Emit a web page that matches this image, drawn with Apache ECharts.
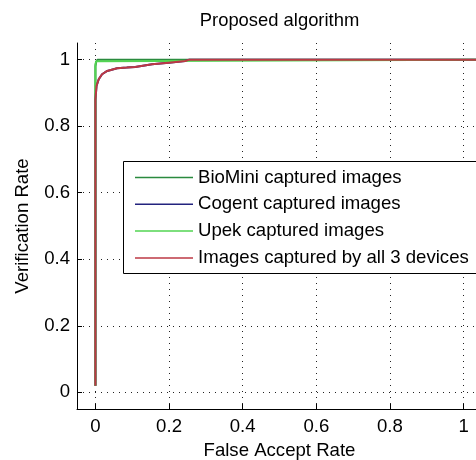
<!DOCTYPE html>
<html>
<head>
<meta charset="utf-8">
<script src="https://cdn.jsdelivr.net/npm/echarts@6/dist/echarts.min.js"></script>
<style>html,body{margin:0;padding:0;background:#fff;}#c{width:476px;height:460px;}</style>
</head>
<body>
<div id="c"></div>
<script>
// ---- data ----
var seriesNames = ['BioMini captured images', 'Cogent captured images', 'Upek captured images', 'Images captured by all 3 devices'];
var seriesColors = ['#2a8a3e', '#23237e', '#52d452', '#bd3844'];

var bioX = [0, 0, 0.002, 0.006, 1.05];
var bioY = [0.02, 0.98, 0.993, 1, 1];

var cogX = [0, 0, 0.003, 0.009, 0.018, 0.032, 0.059, 0.085, 0.108, 0.154, 0.199, 0.244, 0.255, 1.05];
var cogY = [0.02, 0.88, 0.921, 0.941, 0.956, 0.966, 0.974, 0.976, 0.978, 0.986, 0.991, 0.996, 1, 1];

var upekX = [0, 0, 0.002, 0.006, 1.05];
var upekY = [0.02, 0.985, 0.995, 1, 1];

var allX = [0, 0, 0.003, 0.009, 0.018, 0.032, 0.059, 0.085, 0.108, 0.154, 0.199, 0.244, 0.255, 1.05];
var allY = [0.02, 0.88, 0.921, 0.941, 0.956, 0.966, 0.974, 0.976, 0.978, 0.986, 0.991, 0.996, 1, 1];

var xTicks = [0, 0.2, 0.4, 0.6, 0.8, 1];
var yTicks = [0, 0.2, 0.4, 0.6, 0.8, 1];

function pairs(xs, ys) { return xs.map(function (x, i) { return [x, ys[i]]; }); }
var seriesData = [pairs(bioX, bioY), pairs(cogX, cogY), pairs(upekX, upekY), pairs(allX, allY)];

var FONT = '"Liberation Sans", Arial, sans-serif';
var FS = 18.6;
var chart = echarts.init(document.getElementById('c'), null, {renderer: 'canvas'});

var gridLine = {show: true, lineStyle: {color: '#222', width: 1, type: [1, 5]}};

var option = {
  animation: false,
  backgroundColor: '#fff',
  title: {
    text: 'Proposed algorithm',
    left: 279.5, top: 12, padding: 0, textAlign: 'center',
    textStyle: {fontFamily: FONT, fontSize: 18.4, fontWeight: 'normal', color: '#000'}
  },
  grid: {left: 77, right: -6, top: 43, bottom: 51, containLabel: false, outerBoundsMode: 'none'},
  graphic: [{
    type: 'rect', z: 3, silent: true,
    shape: {x: 123.5, y: 161.5, width: 370, height: 112},
    style: {fill: '#fff', stroke: '#000', lineWidth: 1}
  }],
  legend: {
    data: seriesNames,
    orient: 'vertical', left: 123, top: 161, z: 4,
    icon: 'rect', itemWidth: 58, itemHeight: 1.5, itemGap: 6.8,
    padding: [6.5, 10, 6.5, 12],
    borderWidth: 0, backgroundColor: 'transparent',
    selectedMode: false,
    textStyle: {fontFamily: FONT, fontSize: FS, lineHeight: 20, color: '#000'}
  },
  xAxis: {
    type: 'value', min: -0.05, max: 1.05,
    name: 'False Accept Rate', nameLocation: 'middle', nameGap: 32,
    nameTextStyle: {fontFamily: FONT, fontSize: FS, color: '#000'},
    axisLine: {show: true, onZero: false, lineStyle: {color: '#000', width: 1}},
    axisTick: {show: true, inside: true, length: 5, customValues: xTicks, lineStyle: {color: '#000'}},
    axisLabel: {customValues: xTicks, margin: 8, fontFamily: FONT, fontSize: FS, color: '#000',
      formatter: function (v) { return String(+v.toFixed(2)); }},
    splitLine: gridLine
  },
  yAxis: {
    type: 'value', min: -0.05, max: 1.05,
    name: 'Verification Rate', nameLocation: 'middle', nameGap: 45,
    nameTextStyle: {fontFamily: FONT, fontSize: FS, color: '#000'},
    axisLine: {show: true, onZero: false, lineStyle: {color: '#000', width: 1}},
    axisTick: {show: true, inside: true, length: 5, customValues: yTicks, lineStyle: {color: '#000'}},
    axisLabel: {customValues: yTicks, margin: 7, fontFamily: FONT, fontSize: FS, color: '#000',
      formatter: function (v) { return String(+v.toFixed(2)); }},
    splitLine: gridLine
  },
  series: seriesNames.map(function (n, i) {
    return {
      name: n, type: 'line', data: seriesData[i],
      showSymbol: false, symbol: 'none', clip: true,
      lineStyle: {color: seriesColors[i], width: 2},
      itemStyle: {color: seriesColors[i]},
      emphasis: {disabled: true}
    };
  })
};
chart.setOption(option);
</script>
</body>
</html>
